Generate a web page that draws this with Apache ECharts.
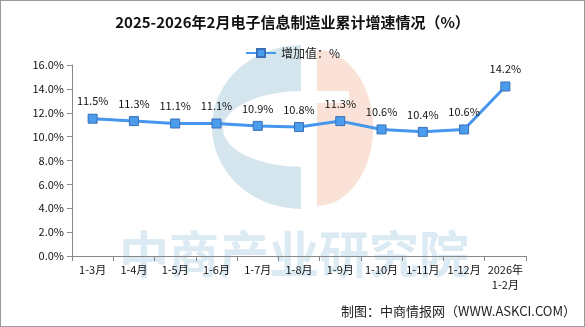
<!DOCTYPE html>
<html><head><meta charset="utf-8">
<script src="https://cdn.jsdelivr.net/npm/echarts@6/dist/echarts.min.js"></script>
<style>html,body{margin:0;padding:0;background:#fff}#c{width:583px;height:325px;border:1px solid #999;}</style>
</head><body><div id="c"></div>
<script>
const categories = ['1-3月','1-4月','1-5月','1-6月','1-7月','1-8月','1-9月','1-10月','1-11月','1-12月','2026年\n1-2月'];
const values = [11.5, 11.3, 11.1, 11.1, 10.9, 10.8, 11.3, 10.6, 10.4, 10.6, 14.2];
const yTicks = [0, 2, 4, 6, 8, 10, 12, 14, 16];
const seriesName = '增加值：%';
const title = '2025-2026年2月电子信息制造业累计增速情况（%）';
const source = '制图：中商情报网（WWW.ASKCI.COM）';

const font = '"Noto Sans CJK SC", "DejaVu Sans", sans-serif';
const chart = echarts.init(document.getElementById('c'));
chart.setOption({
  animation: false,
  title: { text: title, left: 'center', top: 9, textStyle: { fontFamily: font, fontSize: 15, fontWeight: 'bold', color: '#111' } },
  legend: { top: 41, left: 'center', itemWidth: 30, itemHeight: 10, textStyle: { fontFamily: font, fontSize: 12, color: '#222' }, data: [seriesName] },
  grid: { left: 71, right: 58, top: 64, bottom: 70 },
  graphic: [
    { type: 'sector', x: 300, y: 126, scaleY: 0.92, shape: { cx: 0, cy: 0, r: 89, startAngle: Math.PI*0.5, endAngle: Math.PI*1.5 }, style: { fill: '#d5e5ee' }, z: -10 },
    { type: 'sector', x: 301, y: 128, scaleY: 0.48, shape: { cx: 0, cy: 0, r: 79, startAngle: Math.PI*0.5, endAngle: Math.PI*1.5 }, style: { fill: '#ffffff' }, z: -9 },
    { type: 'sector', x: 316, y: 127, scaleX: 0.72, shape: { cx: 0, cy: 0, r: 78, startAngle: -Math.PI*0.5, endAngle: Math.PI*0.5 }, style: { fill: '#fae2d8' }, z: -10 },
    { type: 'rect', shape: { x: 316, y: 90, width: 32, height: 12 }, style: { fill: '#ffffff' }, z: -9 },
    { type: 'text', left: 118, top: 228, style: { text: '中商产业研究院', fontFamily: font, fontSize: 50, fontWeight: 'bold', fill: 'rgba(195,220,235,0.6)', letterSpacing: 6 }, z: -8 },
    { type: 'text', right: 8, top: 304, style: { text: source, fontFamily: font, fontSize: 13, fill: '#222' } }
  ],
  xAxis: {
    type: 'category', data: categories, boundaryGap: true,
    axisLine: { lineStyle: { color: '#888' } },
    axisTick: { show: true, lineStyle: { color: '#888' } },
    axisLabel: { color: '#111', fontFamily: font, fontSize: 11, interval: 0, margin: 6, lineHeight: 15 }
  },
  yAxis: {
    type: 'value', min: 0, max: 16, interval: 2,
    axisLine: { show: true, lineStyle: { color: '#888' } },
    axisTick: { show: true, lineStyle: { color: '#888' } },
    splitLine: { show: false },
    axisLabel: { color: '#111', fontFamily: font, fontSize: 11, formatter: v => yTicks.includes(v) ? v.toFixed(1) + '%' : '' }
  },
  series: [{
    name: seriesName, type: 'line', data: values,
    symbol: 'rect', symbolSize: 9,
    lineStyle: { color: '#4596ec', width: 3 },
    itemStyle: { color: '#4a9cec', borderColor: '#3a6fb5', borderWidth: 1 },
    label: { show: true, position: 'top', distance: 7, formatter: p => p.value.toFixed(1) + '%', color: '#111', fontFamily: font, fontSize: 11 }
  }]
});
</script></body></html>
